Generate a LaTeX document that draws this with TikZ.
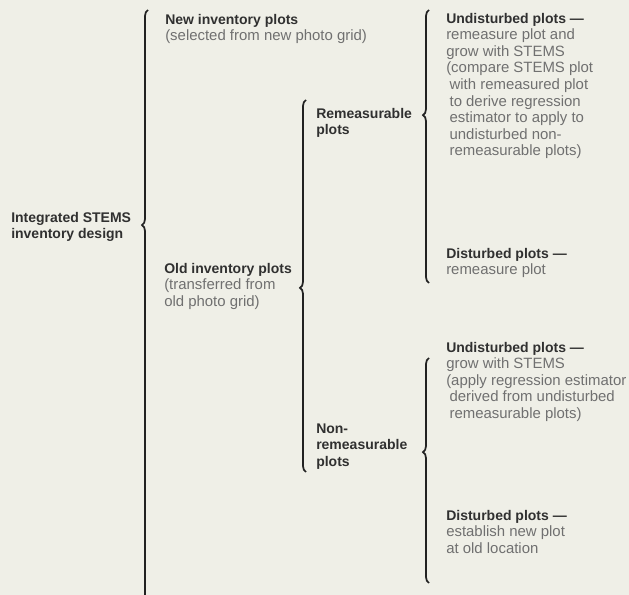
\documentclass[tikz,border=0pt]{standalone}
\usepackage{fontspec}
\setmainfont{Liberation Sans}
\usetikzlibrary{decorations.pathreplacing}

\definecolor{paper}{HTML}{EFEFE7}
\definecolor{inkdark}{HTML}{303030}
\definecolor{inkgrey}{HTML}{707070}
\definecolor{bracecol}{HTML}{222222}

% bold heading inside a text block
\newcommand{\hd}[1]{{\color{inkdark}\bfseries\fontsize{10.5}{12.4}\selectfont #1}}

\tikzset{
  txt/.style={anchor=north west, inner sep=0pt, align=left, text=inkgrey,
    font=\fontsize{11.2}{12.4}\selectfont},
  curly/.style={draw=bracecol, line width=1.3pt, decorate,
    decoration={brace, amplitude=4.5pt, aspect=#1}},
}

\begin{document}
\begin{tikzpicture}[x=0.75pt,y=0.75pt,yscale=-1,xscale=1]
        %uncomment if require: \path (0,595); %set diagram left start at 0, and has height of 595
        \fill[paper] (0,0) rectangle (629,595);
        \useasboundingbox (0,0) rectangle (629,595);
        \clip (0,0) rectangle (629,595);

        % Text Node
        \node [txt] (design) at (11,210.5) {\strut\hd{Integrated STEMS}\\\hd{inventory design}};
        % Text Node
        \node [txt] (newplots) at (165,12.5) {\strut\hd{New inventory plots}\\(selected from new photo grid)};
        % Text Node
        \node [txt] (oldplots) at (164,261.5) {\strut\hd{Old inventory plots}\\(transferred from\\old photo grid)};
        % Text Node
        \node [txt] (remeas) at (316,106.5) {\strut\hd{Remeasurable}\\\hd{plots}};
        % Text Node
        \node [txt] (nonremeas) at (316,421.5) {\strut\hd{Non-}\\\hd{remeasurable}\\\hd{plots}};
        % Text Node
        \node [txt] (undistA) at (446,11.5) {\strut\hd{Undisturbed plots ---}\\remeasure plot and\\grow with STEMS\\(compare STEMS plot\\\hspace{2.5pt}with remeasured plot\\\hspace{2.5pt}to derive regression\\\hspace{2.5pt}estimator to apply to\\\hspace{2.5pt}undisturbed non-\\\hspace{2.5pt}remeasurable plots)};
        % Text Node
        \node [txt] (distA) at (446,246.5) {\strut\hd{Disturbed plots ---}\\remeasure plot};
        % Text Node
        \node [txt] (undistB) at (446,340.5) {\strut\hd{Undisturbed plots ---}\\grow with STEMS\\(apply regression estimator\\\hspace{2.5pt}derived from undisturbed\\\hspace{2.5pt}remeasurable plots)};
        % Text Node
        \node [txt] (distB) at (446,508.5) {\strut\hd{Disturbed plots ---}\\establish new plot\\at old location};

        % brace ends
        \coordinate (designLow) at (148,604);
        \coordinate (designHigh) at (148,10);
        \coordinate (oldLow) at (306,472);
        \coordinate (oldHigh) at (306,100);
        \coordinate (remeasLow) at (429,283);
        \coordinate (remeasHigh) at (429,10);
        \coordinate (nonremeasLow) at (429,583);
        \coordinate (nonremeasHigh) at (429,358);

        %Shape: Brace
        \draw [curly=0.638] (designLow) -- (designHigh);
        %Shape: Brace
        \draw [curly=0.495] (oldLow) -- (oldHigh);
        %Shape: Brace
        \draw [curly=0.615] (remeasLow) -- (remeasHigh);
        %Shape: Brace
        \draw [curly=0.582] (nonremeasLow) -- (nonremeasHigh);

\end{tikzpicture}
\end{document}
